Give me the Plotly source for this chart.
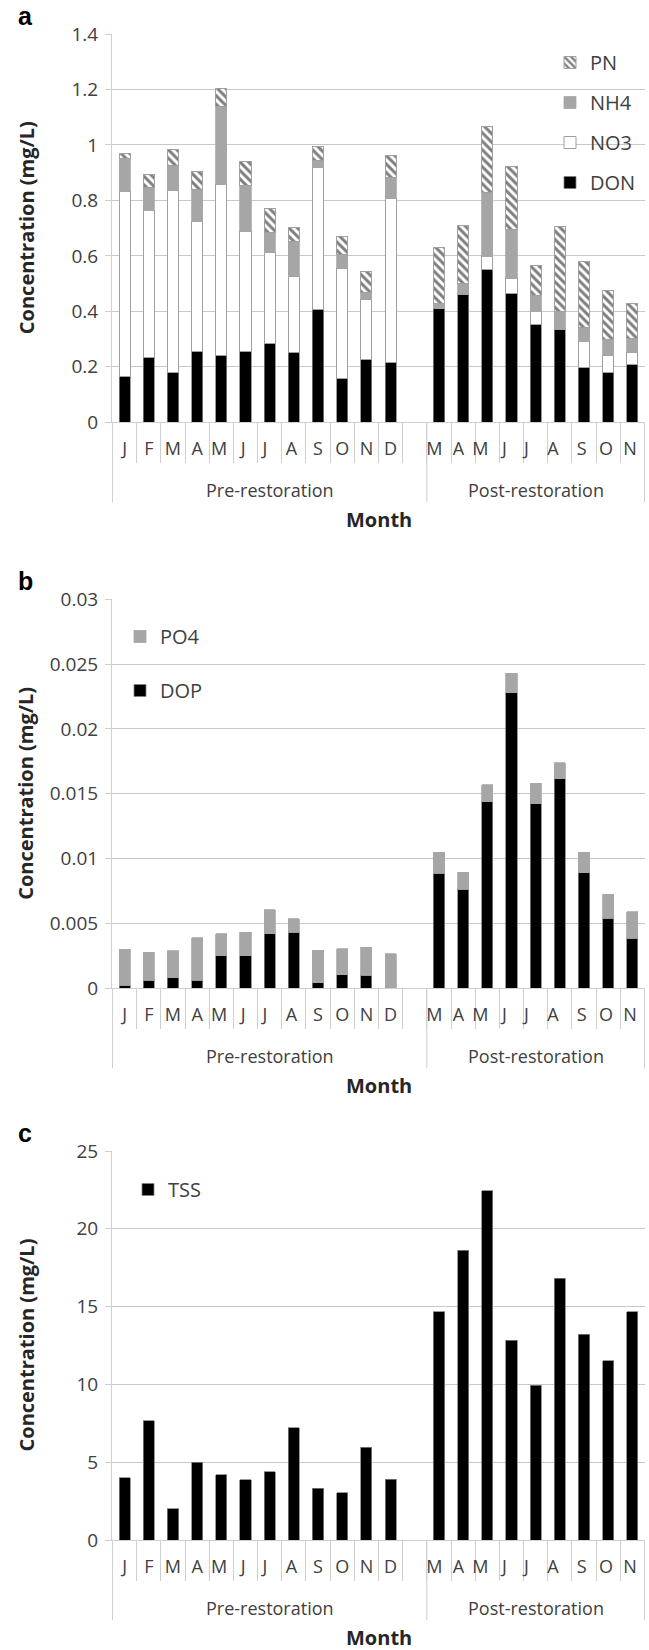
import plotly.graph_objects as go

# ---------------- data ----------------
period = ["Pre-restoration"] * 13 + ["Post-restoration"] * 9
months = ["J", "F", "M", "A", "M", "J", "J", "A", "S", "O", "N", "D", "",
          "M", "A", "M", "J", "J", "A", "S", "O", "N"]

# panel a (mg/L) - stacked: DON, NO3, NH4, PN
DON = [0.164, 0.233, 0.179, 0.254, 0.242, 0.257, 0.285, 0.251, 0.408, 0.158, 0.227, 0.217, None,
       0.411, 0.462, 0.552, 0.465, 0.351, 0.333, 0.199, 0.181, 0.207]
NO3 = [0.669, 0.532, 0.658, 0.469, 0.615, 0.432, 0.326, 0.276, 0.510, 0.397, 0.216, 0.590, None,
       0.000, 0.004, 0.045, 0.054, 0.048, 0.005, 0.092, 0.061, 0.046]
NH4 = [0.118, 0.081, 0.090, 0.116, 0.283, 0.166, 0.072, 0.126, 0.027, 0.051, 0.025, 0.074, None,
       0.016, 0.036, 0.232, 0.176, 0.058, 0.061, 0.051, 0.058, 0.048]
PN = [0.018, 0.048, 0.057, 0.065, 0.065, 0.084, 0.088, 0.048, 0.050, 0.065, 0.075, 0.080, None,
      0.203, 0.206, 0.236, 0.226, 0.108, 0.306, 0.237, 0.174, 0.128]

# panel b (mg/L) - stacked: DOP, PO4
DOP = [0.00023, 0.00063, 0.00081, 0.00063, 0.00251, 0.00251, 0.00419, 0.00431, 0.00043, 0.00104, 0.00099, 0.0, None,
       0.00889, 0.00765, 0.01440, 0.02280, 0.01423, 0.01616, 0.00892, 0.00539, 0.00387]
PO4 = [0.00277, 0.00216, 0.00208, 0.00325, 0.00168, 0.00183, 0.00188, 0.00107, 0.00251, 0.00201, 0.00218, 0.00266, None,
       0.00160, 0.00129, 0.00130, 0.00150, 0.00157, 0.00124, 0.00157, 0.00188, 0.00203]

# panel c (mg/L)
TSS = [4.01, 7.68, 2.02, 5.00, 4.20, 3.88, 4.40, 7.22, 3.33, 3.03, 5.96, 3.92, None,
       14.68, 18.62, 22.43, 12.84, 9.95, 16.81, 13.23, 11.51, 14.66]

y_titles = ["Concentration (mg/L)"] * 3
x_title = "Month"
panel_letters = ["a", "b", "c"]

# ---------------- layout helpers ----------------
W, H = 649, 1650
FONT = "Open Sans"
GRID = "#c8c8c8"
LINE = "#cfcfcf"
TXT = "#404040"

def py(px):
    return 1 - px / H

def pxx(px):
    return px / W

# category keys must be unique (month letters repeat); pad with trailing spaces
seen = {}
xcat = []
for m in months:
    base = m if m else " "
    n = seen.get(base, 0)
    seen[base] = n + 1
    xcat.append(base + " " * n)

# groups: (label, first index, last index)
groups = []
for i, g in enumerate(period):
    if groups and groups[-1][0] == g:
        groups[-1][2] = i
    else:
        groups.append([g, i, i])

fig = go.Figure()

PN_PATTERN = dict(shape="\\", fgcolor="black", bgcolor="white", size=6, solidity=0.5)

# panel a
fig.add_bar(x=xcat, y=DON, name="DON", marker=dict(color="black", line=dict(color="#808080", width=0.8)),
            xaxis="x", yaxis="y", legend="legend", legendgroup="DON", legendrank=4)
fig.add_bar(x=xcat, y=NO3, name="NO3", marker=dict(color="white", line=dict(color="#a0a0a0", width=1)),
            xaxis="x", yaxis="y", legend="legend", legendgroup="NO3", legendrank=3)
fig.add_bar(x=xcat, y=NH4, name="NH4", marker=dict(color="#a6a6a6", line=dict(color="#a6a6a6", width=0.8)),
            xaxis="x", yaxis="y", legend="legend", legendgroup="NH4", legendrank=2)
fig.add_bar(x=xcat, y=PN, name="PN",
            marker=dict(color="white", line=dict(color="#a0a0a0", width=1), pattern=PN_PATTERN),
            xaxis="x", yaxis="y", legend="legend", legendgroup="PN", legendrank=1)

# panel b
fig.add_bar(x=xcat, y=DOP, name="DOP", marker=dict(color="black", line=dict(color="#808080", width=0.8)),
            xaxis="x2", yaxis="y2", legend="legend2", legendgroup="DOP", legendrank=2)
fig.add_bar(x=xcat, y=PO4, name="PO4", marker=dict(color="#a6a6a6", line=dict(color="#a6a6a6", width=0.8)),
            xaxis="x2", yaxis="y2", legend="legend2", legendgroup="PO4", legendrank=1)

# panel c
fig.add_bar(x=xcat, y=TSS, name="TSS", marker=dict(color="black", line=dict(color="#808080", width=0.8)),
            xaxis="x3", yaxis="y3", legend="legend3")

# plot rectangles (px): top, bottom
panels = [(34, 422.3), (599.3, 988.3), (1151, 1540)]
x_dom = [pxx(112), pxx(645)]
yranges = [[0, 1.4], [0, 0.03], [0, 25]]
dticks = [0.2, 0.005, 5]

axes = {}
shapes = []
annotations = []
for i, ((top, bot), yr, dt) in enumerate(zip(panels, yranges, dticks)):
    s = "" if i == 0 else str(i + 1)
    ph = bot - top
    axes["xaxis" + s] = dict(
        domain=x_dom, anchor="y" + s, type="category", automargin=False,
        categoryorder="array", categoryarray=xcat,
        showgrid=False, showline=True, linecolor=LINE, linewidth=1,
        ticks="outside", tickson="boundaries", ticklen=40, tickcolor=LINE, tickwidth=1,
        tickangle=0, ticklabelstandoff=10,
        tickfont=dict(family=FONT, size=18, color=TXT),
        fixedrange=True,
    )
    axes["yaxis" + s] = dict(
        domain=[py(bot), py(top)], anchor="x" + s, range=yr, dtick=dt, automargin=False,
        showgrid=True, gridcolor=GRID, gridwidth=1.2,
        showline=True, linecolor=LINE, linewidth=1,
        ticks="outside", ticklen=6, tickcolor=LINE, ticklabelstandoff=3,
        tickfont=dict(family=FONT, size=19, color=TXT),
        zeroline=False, fixedrange=True,
    )
    xr = "x" + s
    yd = ("y" + s) + " domain"
    # group dividers and labels (second level of the category axis)
    bounds = sorted({g[1] - 0.5 for g in groups} | {g[2] + 0.5 for g in groups})
    for b in bounds:
        shapes.append(dict(type="line", xref=xr, yref=yd, x0=b, x1=b, y0=0, y1=-80 / ph,
                           line=dict(color=LINE, width=1)))
    for label, a0, a1 in groups:
        annotations.append(dict(text=label, x=(a0 + a1) / 2, y=-68 / ph, xref=xr, yref=yd,
                                showarrow=False, xanchor="center", yanchor="middle",
                                font=dict(family=FONT, size=18, color=TXT)))
    annotations.append(dict(text="<b>" + y_titles[i] + "</b>", textangle=-90, x=pxx(26), y=py((top + bot) / 2),
                            xref="paper", yref="paper", showarrow=False, xanchor="center", yanchor="middle",
                            font=dict(family=FONT, size=20, color="#262626")))
    annotations.append(dict(text="<b>" + x_title + "</b>", x=pxx(378.5), y=py(bot + 97),
                            xref="paper", yref="paper", showarrow=False, xanchor="center", yanchor="middle",
                            font=dict(family=FONT, size=20, color="#262626")))
    annotations.append(dict(text="<b>" + panel_letters[i] + "</b>", x=pxx(25), y=py(top - 18),
                            xref="paper", yref="paper", showarrow=False, xanchor="center", yanchor="middle",
                            font=dict(family="Liberation Sans", size=25, color="black")))

fig.update_layout(**axes)

fig.update_layout(
    width=W, height=H,
    margin=dict(l=0, r=0, t=0, b=0),
    paper_bgcolor="white", plot_bgcolor="white",
    barmode="stack", bargap=0.54,
    annotations=annotations, shapes=shapes,
    legend=dict(x=pxx(550), y=py(43), xanchor="left", yanchor="top", traceorder="grouped",
                tracegroupgap=11, bgcolor="rgba(0,0,0,0)",
                font=dict(family=FONT, size=20, color=TXT), itemwidth=30),
    legend2=dict(x=pxx(120), y=py(617), xanchor="left", yanchor="top", traceorder="grouped",
                 tracegroupgap=25, bgcolor="rgba(0,0,0,0)",
                 font=dict(family=FONT, size=20, color=TXT), itemwidth=30),
    legend3=dict(x=pxx(128), y=py(1170), xanchor="left", yanchor="top",
                 bgcolor="rgba(0,0,0,0)",
                 font=dict(family=FONT, size=20, color=TXT), itemwidth=30),
    showlegend=True,
)

fig.write_html("out.html", config={"displayModeBar": False},
               post_script="document.body.style.margin='0';document.body.style.overflow='hidden';")
